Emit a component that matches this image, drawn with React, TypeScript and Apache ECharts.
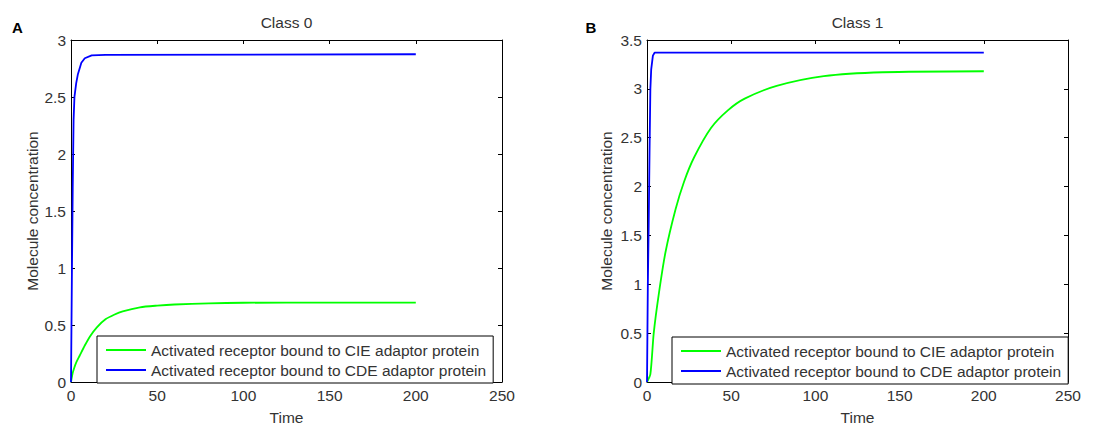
import React, { useEffect, useRef } from "react";
import * as echarts from "echarts";

// ---------- data ----------
const seriesNames = [
  "Activated receptor bound to CIE adaptor protein",
  "Activated receptor bound to CDE adaptor protein",
];
const titles = ["Class 0", "Class 1"];
const panelLetters = ["A", "B"];

// Class 0 – CIE (green)
const c0CieT = [0, 1, 2, 3, 5, 8, 11, 15, 20, 25, 30, 40, 50, 60, 80, 100, 150, 200];
const c0CieV = [0, 0.08, 0.13, 0.17, 0.23, 0.32, 0.4, 0.48, 0.55, 0.59, 0.62, 0.655, 0.67, 0.68, 0.69, 0.695, 0.697, 0.697];
// Class 0 – CDE (blue)
const c0CdeT = [0, 0.5, 1, 1.5, 2, 3, 4, 6, 8, 12, 20, 200];
const c0CdeV = [0, 0.9, 1.7, 2.3, 2.5, 2.62, 2.7, 2.8, 2.84, 2.865, 2.87, 2.875];
// Class 1 – CIE (green)
const c1CieT = [0, 2, 4, 7, 11, 17, 22, 28, 38, 48, 58, 77, 105, 140, 200];
const c1CieV = [0, 0.08, 0.5, 0.9, 1.33, 1.77, 2.05, 2.3, 2.6, 2.78, 2.9, 3.03, 3.13, 3.17, 3.18];
// Class 1 – CDE (blue)
const c1CdeT = [0, 0.5, 1, 1.5, 2, 2.5, 3.5, 4.5, 200];
const c1CdeV = [0, 1.0, 1.6, 2.35, 3.0, 3.2, 3.34, 3.37, 3.37];

const yMax = [3, 3.5];

const zip = (t: number[], v: number[]) => t.map((x, i) => [x, v[i]]);

const FONT = "'Liberation Sans', Arial, sans-serif";
const TXT = "#333";

export default function App() {
  const ref = useRef<HTMLDivElement>(null);

  useEffect(() => {
    if (!ref.current) return;
    const chart = echarts.init(ref.current, undefined, { renderer: "svg" });

    const grids = [
      { left: 71, top: 40, width: 431, height: 350 },
      { left: 647, top: 40, width: 421, height: 350 },
    ];

    const xAxes: any[] = [];
    const yAxes: any[] = [];
    grids.forEach((g, gi) => {
      const base = {
        gridIndex: gi,
        type: "value",
        axisLine: { show: true, onZero: false, lineStyle: { color: "#000", width: 1 } },
        axisTick: { show: true, inside: true, length: 4, lineStyle: { color: "#000" } },
        splitLine: { show: false },
      };
      xAxes.push({
        ...base,
        position: "bottom",
        min: 0,
        max: 250,
        interval: 50,
        name: "Time",
        nameLocation: "middle",
        nameGap: 27,
        nameTextStyle: { fontFamily: FONT, fontSize: 15.5, color: TXT },
        axisLabel: { margin: 5, fontFamily: FONT, fontSize: 15.5, color: TXT },
      });
      xAxes.push({
        ...base,
        position: "top",
        min: 0,
        max: 250,
        interval: 50,
        axisLabel: { show: false },
      });
      yAxes.push({
        ...base,
        position: "left",
        min: 0,
        max: yMax[gi],
        interval: 0.5,
        name: "Molecule concentration",
        nameLocation: "middle",
        nameGap: gi === 0 ? 30 : 33,
        nameTextStyle: { fontFamily: FONT, fontSize: 15.5, color: TXT },
        axisLabel: { margin: 5, fontFamily: FONT, fontSize: 15.5, color: TXT },
      });
      yAxes.push({
        ...base,
        position: "right",
        min: 0,
        max: yMax[gi],
        interval: 0.5,
        axisLabel: { show: false },
      });
    });

    const lineSeries = (name: string, data: number[][], gi: number, color: string, smooth: number | boolean) => ({
      name,
      type: "line",
      xAxisIndex: gi * 2,
      yAxisIndex: gi * 2,
      data,
      showSymbol: false,
      symbol: "none",
      smooth,
      lineStyle: { color, width: 1.8 },
      itemStyle: { color },
    });

    const series = [
      lineSeries(seriesNames[0], zip(c0CieT, c0CieV), 0, "#00ff00", 0.25),
      lineSeries(seriesNames[1], zip(c0CdeT, c0CdeV), 0, "#0000ff", false),
      lineSeries(seriesNames[0], zip(c1CieT, c1CieV), 1, "#00ff00", 0.25),
      lineSeries(seriesNames[1], zip(c1CdeT, c1CdeV), 1, "#0000ff", false),
    ];

    const legendBase = (left: number, top: number) => ({
      left,
      top,
      orient: "vertical",
      backgroundColor: "#fff",
      borderColor: "#000",
      borderWidth: 1,
      borderRadius: 0,
      padding: [6, 7, 5, 9],
      itemGap: 4,
      itemWidth: 40,
      itemHeight: 2,
      itemTextGap: 4,
      icon: "rect",
      selectedMode: false,
      textStyle: { fontFamily: FONT, fontSize: 15.5, color: TXT, lineHeight: 16 },
      data: seriesNames.map((n) => ({ name: n, icon: "rect" })),
      z: 10,
    });

    const txt = (x: number, y: number, text: string, font: string, fill: string) => ({
      type: "text",
      x,
      y,
      style: {
        text,
        font,
        fill,
        align: "center",
        verticalAlign: "middle",
        textAlign: "center",
        textVerticalAlign: "middle",
      },
    });

    chart.setOption({
      animation: false,
      backgroundColor: "#fff",
      grid: grids.map((g) => ({ ...g, containLabel: false })),
      xAxis: xAxes,
      yAxis: yAxes,
      series,
      legend: [legendBase(97, 336), legendBase(672, 337)],
      graphic: [
        txt(286.5, 22, titles[0], `15.5px ${FONT}`, TXT),
        txt(857.5, 22, titles[1], `15.5px ${FONT}`, TXT),
        txt(17.5, 27, panelLetters[0], `bold 15px ${FONT}`, "#000"),
        txt(591, 27, panelLetters[1], `bold 15px ${FONT}`, "#000"),
      ],
    });

    return () => chart.dispose();
  }, []);

  return (
    <div
      ref={ref}
      style={{ position: "fixed", left: 0, top: 0, width: 1109, height: 430, background: "#fff" }}
    />
  );
}
